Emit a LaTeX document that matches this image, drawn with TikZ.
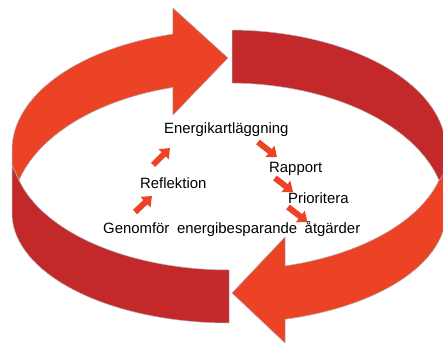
\documentclass[tikz,border=0pt]{standalone}
\usepackage{fontspec}
\setmainfont{Liberation Sans}
\usetikzlibrary{arrows.meta}

\definecolor{ringorange}{RGB}{236,66,38}
\definecolor{ringdark}{RGB}{195,40,42}

\begin{document}
\begin{tikzpicture}[x=1pt, y=-1pt, >=Latex,
  font=\fontsize{14.9}{17}\selectfont,
  band/.style={draw=black!30, line width=0.5pt},
  lbl/.style={anchor=base west, inner sep=0pt},
  flow/.style={draw=ringorange, line width=6pt, -{Triangle[width=14pt,length=9pt]}}]
\useasboundingbox (0,0) rectangle (443,347);
% dark halves of the ring (back and front)
\path[band, fill=ringdark] plot[domain=194.6:270, samples=40, variable=\t] ({229+217*cos(\t)},{150-120*sin(\t)})
  -- (229,323) -- plot[domain=270:180, samples=40, variable=\t] ({229+217*cos(\t)},{213-110*sin(\t)})
  -- (12,165) -- cycle;
\path[band, fill=ringdark] plot[domain=89.2:0, samples=40, variable=\t] ({229+217*cos(\t)},{150-120*sin(\t)})
  -- (447,150) -- (447,195) -- plot[domain=14.6:89.2, samples=40, variable=\t] ({229+217*cos(\t)},{213-130*sin(\t)})
  -- cycle;
% orange arrows
\path[band, fill=ringorange] plot[domain=105:180, samples=40, variable=\t] ({229+217*cos(\t)},{150-120*sin(\t)})
  -- (12,165) -- plot[domain=165.4:105, samples=40, variable=\t] ({229+217*cos(\t)},{213-130*sin(\t)})
  -- (173,115) -- (228,58) -- (173,8) -- cycle;
\path[band, fill=ringorange] plot[domain=285:345.4, samples=40, variable=\t] ({229+217*cos(\t)},{150-120*sin(\t)})
  -- (447,170) -- (447,213) -- plot[domain=360:285, samples=40, variable=\t] ({229+217*cos(\t)},{213-110*sin(\t)})
  -- (285,343) -- (232,293) -- (285,237) -- cycle;
% steps
\node[lbl] (energi) at (164,134) {Energikartläggning};
\node[lbl] (rapport) at (269,172) {Rapport};
\node[lbl] (prior) at (288,203) {Prioritera};
\node[lbl] (refl) at (140,188) {Reflektion};
\node[lbl] (genom) at (103,233) {Genomför\hspace{7.6pt}energibesparande\hspace{7.6pt}åtgärder};
\draw[flow] ([shift={(94,8)}]energi.base west) -- ([shift={(8,-15)}]rapport.base west);
\draw[flow] ([shift={(6,6)}]rapport.base west) -- ([shift={(5,-11)}]prior.base west);
\draw[flow] ([shift={(0,4)}]prior.base west) -- ([shift={(-53,-11)}]genom.base east);
\draw[flow] ([shift={(32,-21)}]genom.base west) -- ([shift={(12,8)}]refl.base west);
\draw[flow] ([shift={(13,-23)}]refl.base west) -- ([shift={(6,14)}]energi.base west);
\end{tikzpicture}
\end{document}
